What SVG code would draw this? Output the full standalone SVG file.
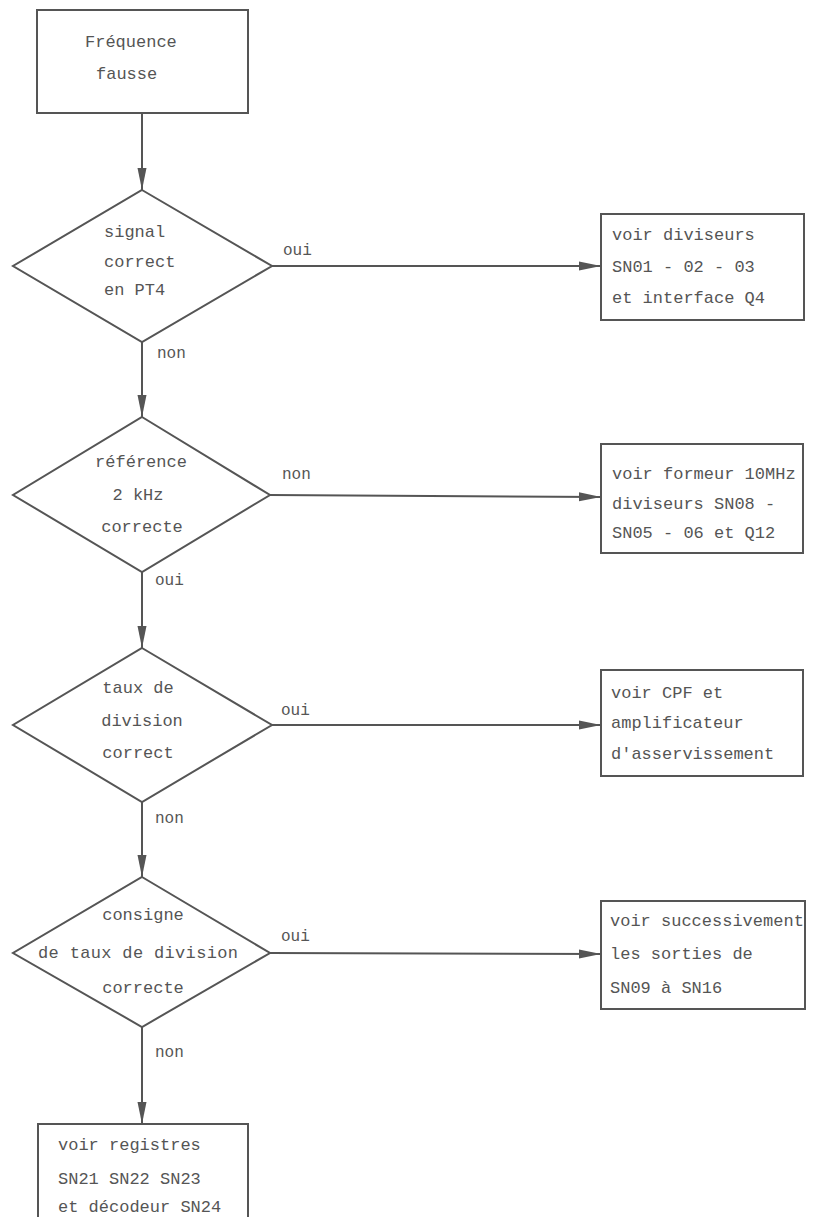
<svg xmlns="http://www.w3.org/2000/svg" width="815" height="1217" viewBox="0 0 815 1217">
  <style>
    .shape { fill: none; stroke: #555; stroke-width: 2; }
    .conn { fill: none; stroke: #555; stroke-width: 2; }
    text { font-family: "Liberation Mono", "DejaVu Sans Mono", monospace; font-size: 17px; fill: #555; }
    .mid { text-anchor: middle; }
    .lbl { font-size: 16px; }
  </style>
  <defs>
    <marker id="arr" markerUnits="userSpaceOnUse" markerWidth="24" markerHeight="10" refX="22" refY="5" orient="auto">
      <path d="M0,0.5 L22,5 L0,9.5 z" fill="#555"/>
    </marker>
  </defs>
  <rect width="815" height="1217" fill="#ffffff"/>

  <g id="start">
    <rect class="shape" x="37" y="10" width="211" height="103"/>
    <text x="85" y="47">Fréquence</text>
    <text x="96" y="79">fausse</text>
  </g>

  <g id="d1">
    <polygon class="shape" points="142,190 272,266 142,342 13,266"/>
    <text x="104" y="237">signal</text>
    <text x="104" y="267">correct</text>
    <text x="104" y="295">en PT4</text>
  </g>

  <g id="d2">
    <polygon class="shape" points="142,417 270,495 142,572 13,495"/>
    <text class="mid" x="141" y="467">référence</text>
    <text class="mid" x="138" y="500">2 kHz</text>
    <text class="mid" x="142" y="532">correcte</text>
  </g>

  <g id="d3">
    <polygon class="shape" points="142,648 272,725 142,802 13,725"/>
    <text class="mid" x="138" y="693">taux de</text>
    <text class="mid" x="142" y="726">division</text>
    <text class="mid" x="138" y="758">correct</text>
  </g>

  <g id="d4">
    <polygon class="shape" points="142,877 270,953 142,1027 13,953"/>
    <text class="mid" x="143" y="920">consigne</text>
    <text class="mid" x="138" y="958" textLength="200">de taux de division</text>
    <text class="mid" x="143" y="993">correcte</text>
  </g>

  <g id="b1">
    <rect class="shape" x="601" y="214" width="203" height="106"/>
    <text x="612" y="240">voir diviseurs</text>
    <text x="612" y="272">SN01 - 02 - 03</text>
    <text x="612" y="303">et interface Q4</text>
  </g>

  <g id="b2">
    <rect class="shape" x="601" y="444" width="202" height="109"/>
    <text x="612" y="479">voir formeur 10MHz</text>
    <text x="612" y="509">diviseurs SN08 -</text>
    <text x="612" y="538">SN05 - 06 et Q12</text>
  </g>

  <g id="b3">
    <rect class="shape" x="601" y="670" width="202" height="106"/>
    <text x="611" y="698">voir CPF et</text>
    <text x="611" y="728">amplificateur</text>
    <text x="611" y="759">d'asservissement</text>
  </g>

  <g id="b4">
    <rect class="shape" x="601" y="901" width="204" height="108"/>
    <text x="610" y="926">voir successivement</text>
    <text x="610" y="959">les sorties de</text>
    <text x="610" y="993">SN09 à SN16</text>
  </g>

  <g id="b5">
    <rect class="shape" x="38" y="1124" width="210" height="110"/>
    <text x="58" y="1150">voir registres</text>
    <text x="58" y="1184">SN21 SN22 SN23</text>
    <text x="58" y="1212">et décodeur SN24</text>
  </g>

  <g id="connectors">
    <line class="conn" x1="142" y1="113" x2="142" y2="190" marker-end="url(#arr)"/>
    <line class="conn" x1="142" y1="342" x2="142" y2="417" marker-end="url(#arr)"/>
    <line class="conn" x1="142" y1="572" x2="142" y2="648" marker-end="url(#arr)"/>
    <line class="conn" x1="142" y1="802" x2="142" y2="877" marker-end="url(#arr)"/>
    <line class="conn" x1="142" y1="1027" x2="142" y2="1124" marker-end="url(#arr)"/>
    <line class="conn" x1="272" y1="266" x2="601" y2="266" marker-end="url(#arr)"/>
    <line class="conn" x1="270" y1="495" x2="601" y2="497" marker-end="url(#arr)"/>
    <line class="conn" x1="272" y1="725" x2="601" y2="725" marker-end="url(#arr)"/>
    <line class="conn" x1="270" y1="953" x2="601" y2="954" marker-end="url(#arr)"/>
    <text class="lbl" x="283" y="255">oui</text>
    <text class="lbl" x="157" y="358">non</text>
    <text class="lbl" x="282" y="479">non</text>
    <text class="lbl" x="155" y="585">oui</text>
    <text class="lbl" x="281" y="715">oui</text>
    <text class="lbl" x="155" y="823">non</text>
    <text class="lbl" x="281" y="941">oui</text>
    <text class="lbl" x="155" y="1057">non</text>
  </g>
</svg>
